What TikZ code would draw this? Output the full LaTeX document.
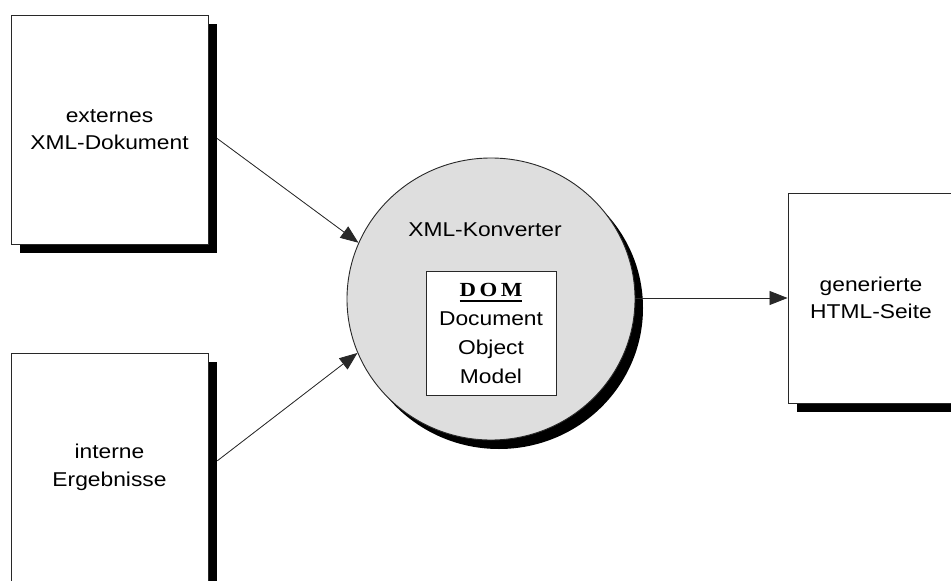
\documentclass[tikz,border=0pt]{standalone}
\usepackage{fontspec}
\setmainfont{Liberation Sans}[FakeStretch=1.14]
\newfontfamily\domfont{Liberation Serif}[FakeStretch=1.14]
\usetikzlibrary{arrows.meta,shapes.geometric}
\definecolor{convgray}{RGB}{222,222,222}
\definecolor{edgegray}{RGB}{40,40,40}
% spaced, heavily underlined title of the DOM box
\newcommand\domtitle{{\domfont\bfseries\setbox0=\hbox{D\kern3.5pt O\kern3.5pt M}\rlap{\copy0}\rule[-6pt]{\wd0}{1.8pt}}}

\begin{document}
\begin{tikzpicture}[x=1pt,y=-1pt,
  docbox/.style={draw=edgegray, line width=0.9pt, fill=white, inner sep=0pt,
    align=center, font=\fontsize{20}{27.5}\selectfont},
  dropshadow/.style={fill=black, draw=none, inner sep=0pt},
  flow/.style={-{Triangle[length=18pt,width=14pt]}, line width=0.8pt, draw=edgegray, fill=edgegray},
]
\useasboundingbox (0,0) rectangle (951,581);
\clip (0,0) rectangle (951,581);
\fill[white] (0,0) rectangle (951,581);

% source document (top left)
\node[dropshadow, minimum width=197pt, minimum height=229pt] (shA) at (118.5,138.5) {};
\node[docbox, minimum width=197pt, minimum height=229pt] (ext) at (109.5,129.5) {externes\\XML-Dokument};

% source document (bottom left)
\node[dropshadow, minimum width=197pt, minimum height=229pt] (shB) at (118.5,476.5) {};
\node[docbox, minimum width=197pt, minimum height=229pt] (int) at (109.5,467.5) {interne\\Ergebnisse};

% generated page (right)
\node[dropshadow, minimum width=166pt, minimum height=210pt] (shC) at (880,307) {};
\node[docbox, minimum width=166pt, minimum height=210pt] (out) at (871,298) {generierte\\HTML-Seite};

% converter
\node[ellipse, dropshadow, minimum width=288pt, minimum height=282pt] (shD) at (499,308) {};
\node[ellipse, draw=edgegray, line width=0.9pt, fill=convgray, inner sep=0pt,
      minimum width=288pt, minimum height=282pt] (conv) at (491,299) {};
\node[inner sep=0pt, font=\fontsize{20}{24}\selectfont] (convlabel) at (485,230) {XML-Konverter};
\node[draw=edgegray, fill=white, line width=0.9pt, minimum width=130pt, minimum height=124pt,
      inner sep=0pt, align=center, font=\fontsize{20}{29}\selectfont] (dom) at (491,333)
      {\domtitle\\Document\\Object\\Model};

% data flow
\draw[flow] (shA.east) -- (conv.157.5);
\draw[flow] (shB.9.5) -- (conv.-158.5);
\draw[flow] (conv.east |- out.west) -- (out.west);
\end{tikzpicture}
\end{document}
